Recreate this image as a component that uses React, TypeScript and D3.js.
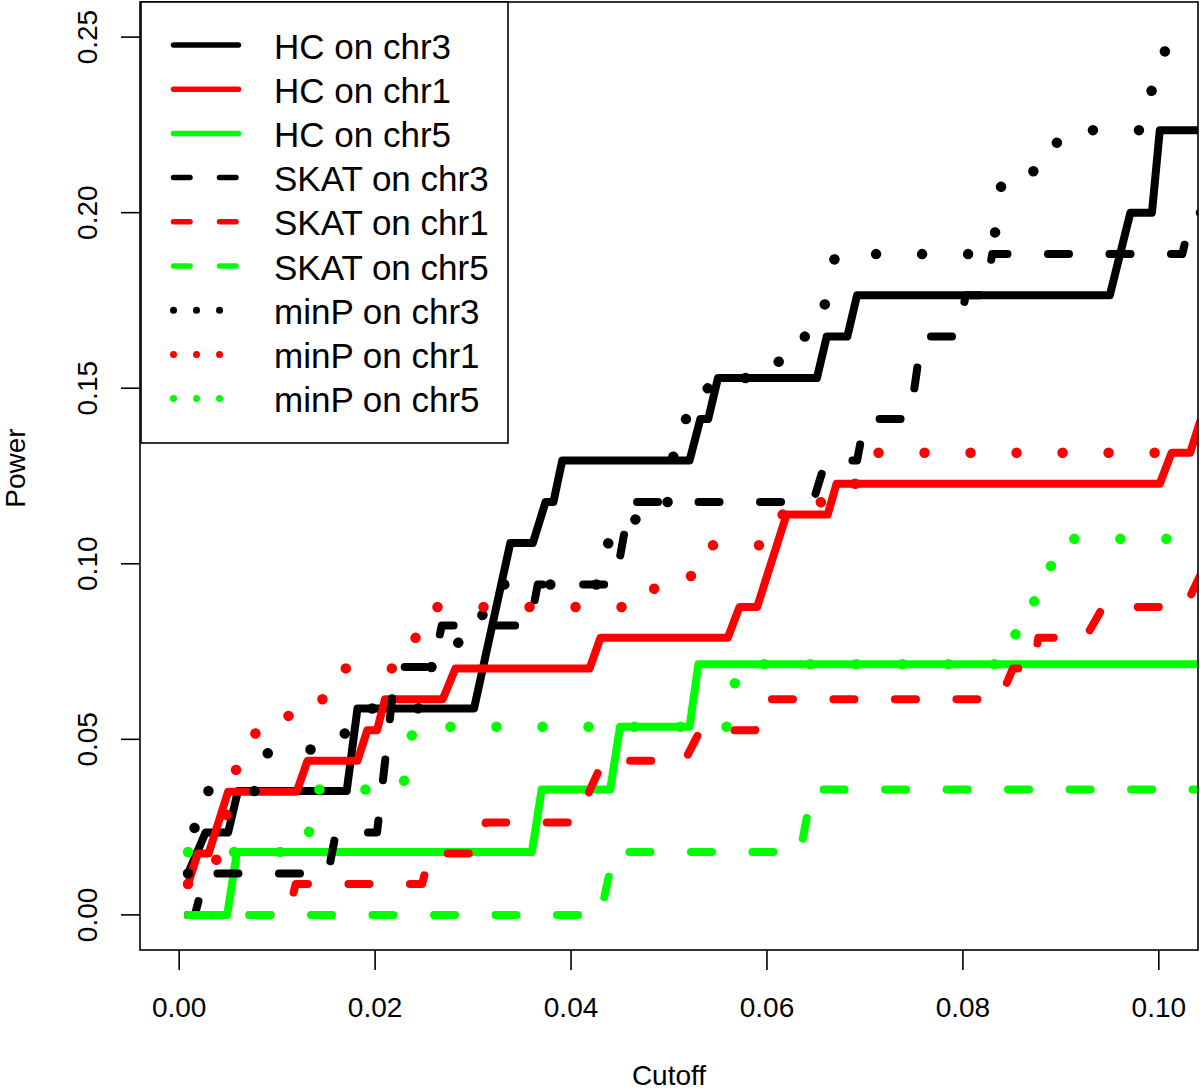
import React from 'react';
import * as d3 from 'd3';

// ---- axis ticks ----
const xTicks = [0, 0.02, 0.04, 0.06, 0.08, 0.1];
const xTickLabels = ['0.00', '0.02', '0.04', '0.06', '0.08', '0.10'];
const yTicks = [0, 0.05, 0.1, 0.15, 0.2, 0.25];
const yTickLabels = ['0.00', '0.05', '0.10', '0.15', '0.20', '0.25'];

// ---- series (cutoff, power) ----
const hcChr3Cut = [0.0009, 0.0027, 0.005, 0.006, 0.0171, 0.0182, 0.0301, 0.0338, 0.0361, 0.0374, 0.0382, 0.0391, 0.0521, 0.0532, 0.054, 0.055, 0.0651, 0.0661, 0.0682, 0.0692, 0.095, 0.0971, 0.0993, 0.1001, 0.1042];
const hcChr3Pow = [0.0118, 0.0235, 0.0235, 0.0353, 0.0353, 0.0588, 0.0588, 0.1059, 0.1059, 0.1176, 0.1176, 0.1294, 0.1294, 0.1412, 0.1412, 0.1529, 0.1529, 0.1647, 0.1647, 0.1765, 0.1765, 0.2, 0.2, 0.2235, 0.2235];

const hcChr1Cut = [0.0009, 0.0019, 0.003, 0.005, 0.012, 0.0131, 0.0182, 0.0192, 0.0202, 0.021, 0.0269, 0.0282, 0.0419, 0.043, 0.056, 0.0572, 0.059, 0.062, 0.0662, 0.0671, 0.1001, 0.1013, 0.1032, 0.1042];
const hcChr1Pow = [0.0088, 0.0175, 0.0175, 0.0351, 0.0351, 0.0439, 0.0439, 0.0526, 0.0526, 0.0614, 0.0614, 0.0702, 0.0702, 0.0789, 0.0789, 0.0877, 0.0877, 0.114, 0.114, 0.1228, 0.1228, 0.1316, 0.1316, 0.1404];

const hcChr5Cut = [0.0009, 0.0049, 0.0059, 0.036, 0.037, 0.044, 0.045, 0.0521, 0.053, 0.1042];
const hcChr5Pow = [0, 0, 0.0179, 0.0179, 0.0357, 0.0357, 0.0536, 0.0536, 0.0714, 0.0714];

const skatChr3Cut = [0.0009, 0.0016, 0.0027, 0.0152, 0.016, 0.0202, 0.0221, 0.0259, 0.0268, 0.0358, 0.0366, 0.0445, 0.046, 0.0647, 0.066, 0.0692, 0.07, 0.0746, 0.0758, 0.0794, 0.0803, 0.0822, 0.083, 0.1024, 0.1034, 0.1042];
const skatChr3Pow = [0, 0, 0.0118, 0.0118, 0.0235, 0.0235, 0.0706, 0.0706, 0.0824, 0.0824, 0.0941, 0.0941, 0.1176, 0.1176, 0.1294, 0.1294, 0.1412, 0.1412, 0.1647, 0.1647, 0.1765, 0.1765, 0.1882, 0.1882, 0.2, 0.2];

const skatChr1Cut = [0.0009, 0.0111, 0.0119, 0.0248, 0.0256, 0.0305, 0.0313, 0.0404, 0.0433, 0.0516, 0.0532, 0.0588, 0.0596, 0.0838, 0.0851, 0.0872, 0.0877, 0.0925, 0.0943, 0.1027, 0.1042];
const skatChr1Pow = [0, 0, 0.0088, 0.0088, 0.0175, 0.0175, 0.0263, 0.0263, 0.0439, 0.0439, 0.0526, 0.0526, 0.0614, 0.0614, 0.0702, 0.0702, 0.0789, 0.0789, 0.0877, 0.0877, 0.0965];

const skatChr5Cut = [0.0009, 0.043, 0.0444, 0.0634, 0.0646, 0.1042];
const skatChr5Pow = [0, 0, 0.0179, 0.0179, 0.0357, 0.0357];

const minpChr3Cut = [0.0009, 0.0021, 0.0085, 0.0091, 0.0164, 0.0177, 0.0244, 0.0254, 0.0279, 0.0289, 0.0307, 0.0317, 0.043, 0.0438, 0.046, 0.047, 0.0499, 0.0509, 0.0532, 0.0542, 0.0608, 0.0618, 0.0652, 0.067, 0.083, 0.0841, 0.0889, 0.0899, 0.0986, 0.0993, 0.0999, 0.1007, 0.1042];
const minpChr3Pow = [0.0118, 0.0353, 0.0353, 0.0471, 0.0471, 0.0588, 0.0588, 0.0706, 0.0706, 0.0824, 0.0824, 0.0941, 0.0941, 0.1059, 0.1059, 0.1176, 0.1176, 0.1412, 0.1412, 0.1529, 0.1529, 0.1647, 0.1647, 0.1882, 0.1882, 0.2118, 0.2118, 0.2235, 0.2235, 0.2353, 0.2353, 0.2471, 0.2471];

const minpChr1Cut = [0.0009, 0.003, 0.004, 0.006, 0.0068, 0.0079, 0.0107, 0.0117, 0.0157, 0.0167, 0.0226, 0.0236, 0.0254, 0.0262, 0.0479, 0.0489, 0.0537, 0.0545, 0.0603, 0.0613, 0.0649, 0.0664, 0.07, 0.071, 0.1042];
const minpChr1Pow = [0.0088, 0.0088, 0.0175, 0.0439, 0.0439, 0.0526, 0.0526, 0.0614, 0.0614, 0.0702, 0.0702, 0.0789, 0.0789, 0.0877, 0.0877, 0.0965, 0.0965, 0.1053, 0.1053, 0.114, 0.114, 0.1228, 0.1228, 0.1316, 0.1316];

const minpChr5Cut = [0.0009, 0.0129, 0.014, 0.0228, 0.0239, 0.0561, 0.057, 0.0848, 0.086, 0.0883, 0.0895, 0.1042];
const minpChr5Pow = [0.0179, 0.0179, 0.0357, 0.0357, 0.0536, 0.0536, 0.0714, 0.0714, 0.0893, 0.0893, 0.1071, 0.1071];

const seriesNames = ['HC on chr3', 'HC on chr1', 'HC on chr5', 'SKAT on chr3', 'SKAT on chr1', 'SKAT on chr5', 'minP on chr3', 'minP on chr1', 'minP on chr5'];
const seriesColors = ['#000000', '#ff0000', '#00ff00', '#000000', '#ff0000', '#00ff00', '#000000', '#ff0000', '#00ff00'];
const seriesKinds = ['solid', 'solid', 'solid', 'dashed', 'dashed', 'dashed', 'dotted', 'dotted', 'dotted'];
const seriesCuts = [hcChr3Cut, hcChr1Cut, hcChr5Cut, skatChr3Cut, skatChr1Cut, skatChr5Cut, minpChr3Cut, minpChr1Cut, minpChr5Cut];
const seriesPows = [hcChr3Pow, hcChr1Pow, hcChr5Pow, skatChr3Pow, skatChr1Pow, skatChr5Pow, minpChr3Pow, minpChr1Pow, minpChr5Pow];

const W = 1200;
const H = 1091;
const L = 140, R = 1198, T = 2, B = 950;
const FONT = '"Liberation Sans", Arial, Helvetica, sans-serif';

const plotStyle: Record<string, { w: number; dash?: string }> = {
  solid: { w: 8 },
  dashed: { w: 8, dash: '21 40.5' },
  dotted: { w: 10.5, dash: '0.01 46' },
};
const legendStyle: Record<string, { w: number; dash?: string }> = {
  solid: { w: 5.5 },
  dashed: { w: 5.5, dash: '16.5 29.5' },
  dotted: { w: 7, dash: '0.01 23' },
};

export default function App() {
  const x = d3.scaleLinear().domain([-0.004, 0.104]).range([L, R]);
  const y = d3.scaleLinear().domain([-0.01, 0.26]).range([B, T]);
  const line = d3
    .line<[number, number]>()
    .x((d) => x(d[0]))
    .y((d) => y(d[1]));

  const series = seriesNames.map((name, i) => ({
    name,
    color: seriesColors[i],
    kind: seriesKinds[i],
    pts: seriesCuts[i].map((c, j) => [c, seriesPows[i][j]] as [number, number]),
  }));

  const legX0 = 173.5, legX1 = 238.5, legTextX = 274;
  const legY0 = 45, legStep = 44.2;

  return (
    <svg
      width={W}
      height={H}
      viewBox={`0 0 ${W} ${H}`}
      style={{ position: 'absolute', left: 0, top: 0, background: '#fff' }}
      fontFamily={FONT}
    >
      <defs>
        <clipPath id="plotclip">
          <rect x={L} y={T} width={R - L} height={B - T} />
        </clipPath>
      </defs>
      <rect x={0} y={0} width={W} height={H} fill="#fff" />

      <g clipPath="url(#plotclip)">
        {series.map((s) => {
          const st = plotStyle[s.kind];
          return (
            <path
              key={s.name}
              d={line(s.pts) || ''}
              fill="none"
              stroke={s.color}
              strokeWidth={st.w}
              strokeDasharray={st.dash}
              strokeLinecap="round"
              strokeLinejoin="round"
            />
          );
        })}
      </g>

      {/* plot box */}
      <rect x={L} y={T} width={R - L} height={B - T} fill="none" stroke="#000" strokeWidth={1.6} />

      {/* y axis */}
      {yTicks.map((t, i) => (
        <g key={'y' + i}>
          <line x1={L - 19} x2={L} y1={y(t)} y2={y(t)} stroke="#000" strokeWidth={1.6} />
          <text
            x={97}
            y={y(t)}
            transform={`rotate(-90, 97, ${y(t)})`}
            textAnchor="middle"
            fontSize={28}
            fill="#000"
          >
            {yTickLabels[i]}
          </text>
        </g>
      ))}

      {/* x axis */}
      {xTicks.map((t, i) => (
        <g key={'x' + i}>
          <line x1={x(t)} x2={x(t)} y1={B} y2={B + 20} stroke="#000" strokeWidth={1.6} />
          <text x={x(t)} y={1017} textAnchor="middle" fontSize={28} fill="#000">
            {xTickLabels[i]}
          </text>
        </g>
      ))}

      <text x={(L + R) / 2} y={1085} textAnchor="middle" fontSize={28} fill="#000">
        Cutoff
      </text>
      <text x={25} y={468} transform="rotate(-90, 25, 468)" textAnchor="middle" fontSize={28} fill="#000">
        Power
      </text>

      {/* legend */}
      <rect x={141} y={T} width={508 - 141} height={443 - T} fill="#fff" stroke="#000" strokeWidth={1.6} />
      {series.map((s, i) => {
        const st = legendStyle[s.kind];
        const cy = legY0 + i * legStep;
        return (
          <g key={'leg' + i}>
            <line
              x1={legX0}
              x2={legX1}
              y1={cy}
              y2={cy}
              stroke={s.color}
              strokeWidth={st.w}
              strokeDasharray={st.dash}
              strokeLinecap="round"
            />
            <text x={legTextX} y={cy + 13.5} fontSize={35} fill="#000">
              {s.name}
            </text>
          </g>
        );
      })}
    </svg>
  );
}
